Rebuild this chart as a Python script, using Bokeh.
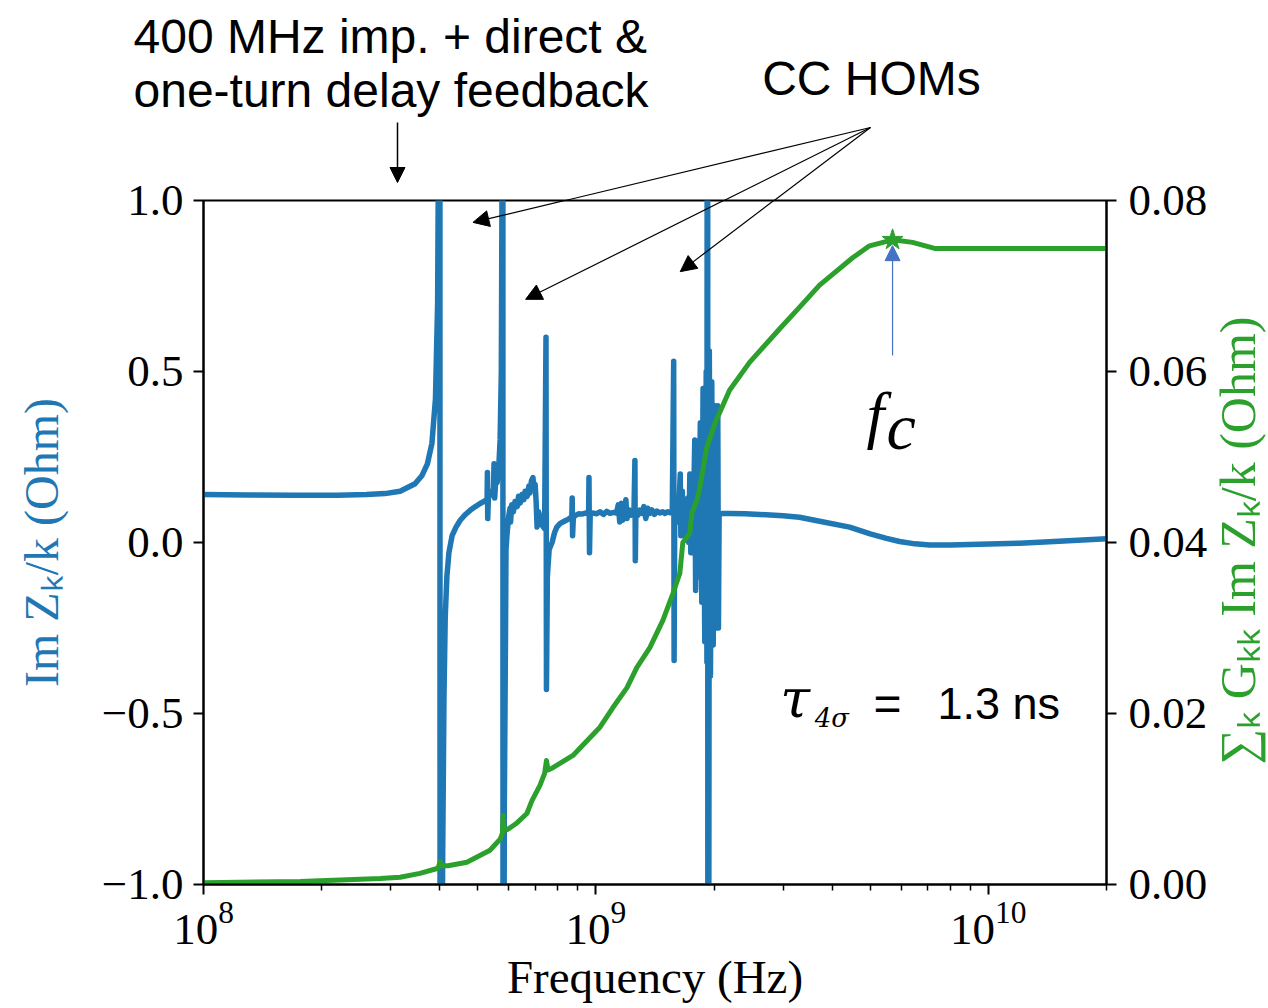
import math
from bokeh.plotting import figure
from bokeh.layouts import column
from bokeh.models import Range1d, LinearAxis, FixedTicker, Arrow, NormalHead, Label
from bokeh.embed import file_html
from bokeh.resources import INLINE

# ---------------- data ----------------
# Im Z_k / k (Ohm) versus frequency (Hz)
freq_imz = [
    1.00e8, 1.30e8, 1.70e8, 2.20e8, 2.60e8, 2.90e8, 3.17e8, 3.46e8, 3.60e8, 3.72e8,
    3.82e8, 3.90e8, 3.95e8, 3.98e8, 4.00e8, 4.01e8, 4.04e8, 4.07e8, 4.10e8, 4.13e8,
    4.17e8, 4.22e8, 4.30e8, 4.40e8, 4.51e8, 4.65e8, 4.78e8, 4.93e8, 5.07e8, 5.20e8,
    5.28e8, 5.29e8, 5.30e8, 5.32e8, 5.40e8, 5.48e8, 5.50e8, 5.52e8, 5.56e8, 5.60e8,
    5.66e8, 5.70e8, 5.74e8, 5.77e8, 5.79e8, 5.80e8, 5.84e8, 5.88e8, 5.90e8, 5.94e8,
    6.00e8, 6.04e8, 6.06e8, 6.10e8, 6.16e8, 6.22e8, 6.30e8, 6.35e8, 6.41e8, 6.48e8,
    6.55e8, 6.60e8, 6.68e8, 6.75e8, 6.79e8, 6.85e8, 6.91e8, 6.95e8, 7.00e8, 7.04e8,
    7.08e8, 7.14e8, 7.20e8, 7.30e8, 7.40e8, 7.46e8, 7.48e8, 7.52e8, 7.60e8, 7.73e8,
    7.85e8, 7.95e8, 8.10e8, 8.24e8, 8.40e8, 8.55e8, 8.68e8, 8.70e8, 8.72e8, 8.76e8,
    8.90e8, 9.05e8, 9.20e8, 9.40e8, 9.58e8, 9.60e8, 9.63e8, 9.67e8, 9.85e8, 1.005e9,
    1.024e9, 1.045e9, 1.065e9, 1.086e9, 1.110e9, 1.128e9, 1.140e9, 1.150e9, 1.160e9, 1.170e9,
    1.180e9, 1.192e9, 1.200e9, 1.215e9, 1.230e9, 1.250e9, 1.257e9, 1.260e9, 1.264e9, 1.280e9,
    1.294e9, 1.310e9, 1.325e9, 1.340e9, 1.355e9, 1.372e9, 1.390e9, 1.410e9, 1.430e9, 1.455e9,
    1.480e9, 1.500e9, 1.525e9, 1.545e9, 1.565e9, 1.578e9, 1.582e9, 1.588e9, 1.600e9, 1.615e9,
    1.628e9, 1.640e9, 1.646e9, 1.652e9, 1.660e9, 1.670e9, 1.685e9, 1.700e9, 1.715e9, 1.724e9,
    1.735e9, 1.745e9, 1.755e9, 1.765e9, 1.786e9, 1.795e9, 1.810e9, 1.825e9, 1.845e9, 1.861e9,
    1.875e9, 1.894e9, 1.910e9, 1.918e9, 1.925e9, 1.930e9, 1.945e9, 1.958e9, 1.973e9, 1.990e9,
    2.008e9, 2.025e9, 2.044e9, 2.052e9, 2.060e9, 2.092e9, 2.193e9, 2.400e9, 2.615e9, 3.000e9,
    3.300e9, 3.800e9, 4.430e9, 5.000e9, 5.500e9, 5.940e9, 6.500e9, 7.080e9, 8.000e9, 9.490e9,
    1.200e10, 1.430e10, 2.000e10,
]
imz = [
    0.140, 0.139, 0.138, 0.138, 0.140, 0.143, 0.150, 0.172, 0.195, 0.230,
    0.290, 0.420, 0.700, 1.400, 4.000, -4.000, -1.600, -0.900, -0.450, -0.220,
    -0.100, -0.030, 0.020, 0.045, 0.065, 0.082, 0.094, 0.105, 0.114, 0.121,
    0.126, 0.205, 0.070, 0.130, 0.145, 0.155, 0.230, 0.130, 0.190, 0.175,
    0.230, 0.300, 0.500, 1.200, 4.000, -4.000, -0.800, -0.300, -0.020, 0.030,
    0.080, 0.100, 0.060, 0.110, 0.090, 0.120, 0.105, 0.135, 0.115, 0.140,
    0.125, 0.150, 0.135, 0.165, 0.145, 0.180, 0.190, 0.160, 0.170, 0.120,
    0.045, 0.090, 0.075, 0.050, 0.040, 0.600, -0.430, -0.100, -0.020, 0.000,
    0.030, 0.045, 0.055, 0.060, 0.065, 0.070, 0.075, 0.130, 0.020, 0.075,
    0.080, 0.084, 0.083, 0.086, 0.085, 0.190, -0.030, 0.085, 0.086, 0.084,
    0.090, 0.082, 0.091, 0.085, 0.088, 0.086, 0.110, 0.060, 0.115, 0.065,
    0.090, 0.125, 0.070, 0.095, 0.080, 0.090, 0.240, -0.053, 0.090, 0.080,
    0.095, 0.085, 0.105, 0.070, 0.100, 0.085, 0.095, 0.082, 0.092, 0.086,
    0.090, 0.085, 0.090, 0.087, 0.088, 0.530, -0.345, 0.090, 0.085, 0.060,
    0.110, 0.200, 0.020, 0.060, 0.150, 0.020, 0.100, 0.050, 0.130, 0.000,
    0.200, -0.030, 0.200, -0.030, 0.300, -0.140, 0.250, -0.100, 0.350, -0.175,
    0.450, -0.290, 0.500, -0.350, 4.000, -4.000, 0.560, -0.390, 0.470, -0.300,
    0.400, -0.250, 0.400, -0.250, 0.080, 0.085, 0.085, 0.084, 0.082, 0.078,
    0.074, 0.060, 0.045, 0.025, 0.012, 0.003, -0.004, -0.007, -0.007, -0.005,
    -0.002, 0.002, 0.011,
]

# sum_k G_kk Im Z_k / k (Ohm), cumulative, versus frequency (Hz)
freq_cum = [
    1.00e8, 1.765e8, 2.82e8, 3.17e8, 3.56e8, 3.96e8, 4.01e8, 4.03e8, 4.20e8, 4.69e8,
    5.37e8, 5.70e8, 5.78e8, 5.80e8, 5.83e8, 5.94e8, 6.29e8, 6.67e8, 6.87e8, 7.20e8,
    7.40e8, 7.48e8, 7.55e8, 7.73e8, 8.74e8, 9.49e8, 1.024e9, 1.105e9, 1.199e9, 1.272e9,
    1.372e9, 1.481e9, 1.570e9, 1.636e9, 1.665e9, 1.735e9, 1.755e9, 1.807e9, 1.839e9, 1.916e9,
    2.008e9, 2.190e9, 2.466e9, 2.940e9, 3.300e9, 3.715e9, 4.510e9, 4.980e9, 5.700e9, 6.410e9,
    7.290e9, 2.000e10,
]
cum = [
    0.0002, 0.00035, 0.0007, 0.00085, 0.0013, 0.0019, 0.0027, 0.0022, 0.0022, 0.0026,
    0.0040, 0.0053, 0.0060, 0.0081, 0.0066, 0.0064, 0.0072, 0.0083, 0.0098, 0.0116,
    0.0130, 0.0145, 0.0134, 0.0136, 0.0151, 0.0168, 0.0184, 0.0207, 0.0230, 0.0254,
    0.0277, 0.0309, 0.0340, 0.0364, 0.0400, 0.0411, 0.0434, 0.0449, 0.0464, 0.0511,
    0.0539, 0.0578, 0.0611, 0.0650, 0.0675, 0.0701, 0.0733, 0.0747, 0.0754, 0.0751,
    0.0744, 0.0744,
]

fc_freq = [5.70e9]
fc_val = [0.0754]

x_major = [1e8, 1e9, 1e10]
x_minor = [2e8, 3e8, 4e8, 5e8, 6e8, 7e8, 8e8, 9e8,
           2e9, 3e9, 4e9, 5e9, 6e9, 7e9, 8e9, 9e9, 2e10]
left_ticks = [-1.0, -0.5, 0.0, 0.5, 1.0]
left_labels = ["\u22121.0", "\u22120.5", "0.0", "0.5", "1.0"]
right_ticks = [0.0, 0.02, 0.04, 0.06, 0.08]
right_labels = ["0.00", "0.02", "0.04", "0.06", "0.08"]

left_title = "Im Z\u2096/k (Ohm)"
right_title = "\u2211\u2096 G\u2096\u2096 Im Z\u2096/k (Ohm)"

BLUE = "#1f77b4"
GREEN = "#2ca02c"
FC_BLUE = "#4472C4"
SERIF = "Liberation Serif"
SANS = "Liberation Sans"
MATH = "DejaVu Serif"
TICK_SIZE = "45px"
W, H = 1268, 1008


def head(color, size=16):
    return NormalHead(size=size, fill_color=color, line_color=color, line_width=1)


def label(fig, x, y, text, size, font=SANS, style="normal", align="left",
          color="black", baseline="middle", angle=0.0):
    fig.add_layout(Label(x=x, y=y, text=text, text_font=font, text_font_size=size,
                         text_font_style=style, text_align=align, angle=angle,
                         text_baseline=baseline, text_color=color))


def no_frame_align(fig):
    if "frame_align" in fig.properties():
        fig.frame_align = False


# ---------------- annotation layer (pixel coordinates, lies under the main plot) ----------------
under = figure(width=W, height=H, x_range=Range1d(0, W), y_range=Range1d(H, 0),
               output_backend="svg", toolbar_location=None,
               x_axis_location=None, y_axis_location=None, min_border=0)
no_frame_align(under)
under.xgrid.visible = False
under.ygrid.visible = False
under.outline_line_color = None
under.background_fill_color = "white"
under.border_fill_color = "white"

label(under, 133, 36, "400 MHz imp. + direct &", "48px")
label(under, 133, 90, "one-turn delay feedback", "48px")
label(under, 871, 78, "CC HOMs", "48px", align="center")
under.add_layout(Arrow(end=head("black", 15), x_start=397, y_start=122, x_end=397, y_end=182,
                       line_color="black", line_width=1.5))
# upper parts of the three "CC HOMs" arrows (continued inside the main frame)
for xe, ye in [(473, 222), (525, 299), (680, 271)]:
    under.add_layout(Arrow(end=None, x_start=870, y_start=127, x_end=xe, y_end=ye,
                           line_color="black", line_width=1.2))
# right-hand axis title, reading upwards
label(under, 1237, 540, right_title, "50px", font=SERIF, align="center",
      color=GREEN, angle=math.pi / 2)

# ---------------- main figure (drawn over the layer, transparent border) ----------------
p = figure(width=W, height=H, x_axis_type="log",
           x_range=Range1d(1e8, 2e10), y_range=Range1d(-1.0, 1.0),
           output_backend="svg", toolbar_location=None,
           min_border_left=203, min_border_right=162,
           min_border_top=200, min_border_bottom=124)
no_frame_align(p)
p.margin = (-H, 0, 0, 0)
p.extra_y_ranges = {"right": Range1d(0.0, 0.08)}
p.xgrid.visible = False
p.ygrid.visible = False
p.outline_line_color = "black"
p.outline_line_width = 2
p.outline_line_alpha = 1.0
p.background_fill_color = "white"
p.border_fill_alpha = 0.0

right_axis = LinearAxis(y_range_name="right")
p.add_layout(right_axis, "right")

xaxis = p.xaxis[0]
yaxis = p.yaxis[0]

for ax in (xaxis, yaxis, right_axis):
    ax.axis_line_width = 2
    ax.axis_line_color = "black"
    ax.major_tick_line_width = 2
    ax.major_tick_in = 0
    ax.major_tick_out = 10
    ax.minor_tick_in = 0
    ax.minor_tick_out = 6
    ax.minor_tick_line_width = 1.5
    ax.major_label_text_font = SERIF
    ax.major_label_text_font_size = TICK_SIZE
    ax.major_label_text_color = "black"
    ax.axis_label_text_font = SERIF
    ax.axis_label_text_font_size = "48px"
    ax.axis_label_text_font_style = "normal"

xaxis.ticker = FixedTicker(ticks=x_major, minor_ticks=x_minor)
xaxis.axis_label = "Frequency (Hz)"
xaxis.axis_label_text_font_size = "47px"
xaxis.axis_label_text_color = "black"
xaxis.major_label_standoff = 8
xaxis.axis_label_standoff = 4

yaxis.ticker = FixedTicker(ticks=left_ticks)
yaxis.major_label_overrides = dict(zip(left_ticks, left_labels))
yaxis.axis_label = left_title
yaxis.axis_label_text_color = BLUE
yaxis.major_label_standoff = 10
yaxis.axis_label_standoff = 31

right_axis.ticker = FixedTicker(ticks=right_ticks)
right_axis.major_label_overrides = dict(zip(right_ticks, right_labels))
right_axis.major_label_standoff = 12

# ---------------- lines ----------------
p.line(freq_imz, imz, line_color=BLUE, line_width=5.5, line_join="round", line_cap="round")
p.line(freq_cum, cum, line_color=GREEN, line_width=5, line_join="round", line_cap="round",
       y_range_name="right")
p.scatter(fc_freq, fc_val, marker="star", size=22, fill_color=GREEN,
          line_color=GREEN, y_range_name="right")

# ---------------- annotations in the main frame ----------------
for xe, ye in [(4.86e8, 0.936), (6.62e8, 0.711), (1.640e9, 0.792)]:
    p.add_layout(Arrow(end=head("black"), x_start=4.98e9, y_start=1.213,
                       x_end=xe, y_end=ye, line_color="black", line_width=1.2))
p.add_layout(Arrow(end=head(FC_BLUE, 15), x_start=5.70e9, y_start=0.547,
                   x_end=5.70e9, y_end=0.868, line_color=FC_BLUE, line_width=1.2))

label(p, 4.89e9, 0.375, "f", "64px", font=SERIF, style="italic")
label(p, 5.50e9, 0.340, "c", "66px", font=SERIF, style="italic")

label(p, 2.95e9, -0.456, "\u03c4", "54px", font=MATH, style="italic")
label(p, 3.61e9, -0.513, "4\u03c3", "26px", font=MATH, style="italic")
label(p, 5.10e9, -0.471, "=", "48px")
label(p, 7.42e9, -0.472, "1.3 ns", "45px")

layout = column(under, p, spacing=0)
open("out.html", "w").write(file_html(layout, INLINE))
